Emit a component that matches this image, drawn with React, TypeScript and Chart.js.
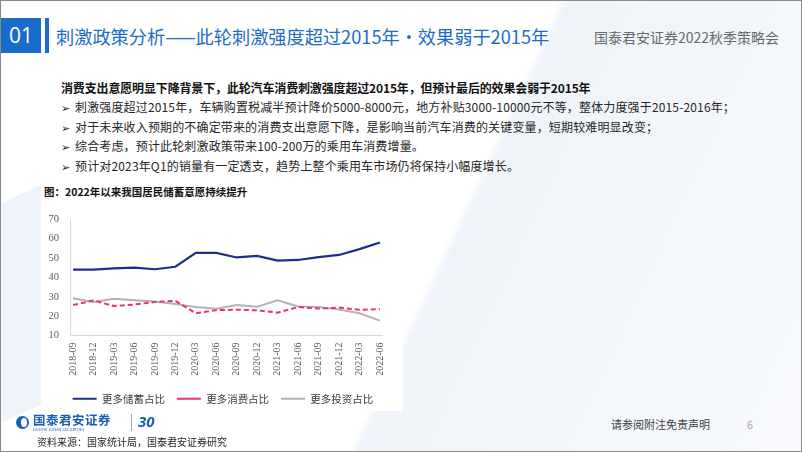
import React, { useEffect, useRef } from "react";
import { Chart, registerables } from "chart.js";

Chart.register(...registerables);

const categories = [
  "2018-09", "2018-12", "2019-03", "2019-06", "2019-09", "2019-12",
  "2020-03", "2020-06", "2020-09", "2020-12", "2021-03", "2021-06",
  "2021-09", "2021-12", "2022-03", "2022-06",
];
const savingsShare = [44, 44, 44.7, 45, 44.2, 45.5, 52.7, 52.7, 50.3, 51.1, 48.7, 49, 50.5, 51.6, 54.6, 58];
const consumptionShare = [25.7, 28.1, 25.2, 26, 27.3, 27.9, 21.5, 23.1, 23.3, 23, 21.8, 24.7, 23.9, 24.4, 23.3, 23.6];
const investmentShare = [29.2, 27.3, 29, 28.2, 27.6, 26.3, 24.7, 23.8, 25.7, 24.9, 28.2, 25, 24.7, 23.4, 21.5, 17.7];
const seriesNames = ["更多储蓄占比", "更多消费占比", "更多投资占比"];
const yTicks = [10, 20, 30, 40, 50, 60, 70];

const bullets = [
  "刺激强度超过2015年，车辆购置税减半预计降价5000-8000元，地方补贴3000-10000元不等，整体力度强于2015-2016年；",
  "对于未来收入预期的不确定带来的消费支出意愿下降，是影响当前汽车消费的关键变量，短期较难明显改变；",
  "综合考虑，预计此轮刺激政策带来100-200万的乘用车消费增量。",
  "预计对2023年Q1的销量有一定透支，趋势上整个乘用车市场仍将保持小幅度增长。",
];

const CJK = '"Noto Sans CJK SC", "Noto Sans", sans-serif';

const legendShift = {
  id: "legendShift",
  afterLayout(chart: any) {
    const lg = chart.legend;
    if (lg) {
      lg.left += 9;
      lg.right += 9;
    }
  },
};

function LineChart() {
  const ref = useRef<HTMLCanvasElement | null>(null);
  useEffect(() => {
    if (!ref.current) return;
    const toPts = (arr: number[]) => arr.map((v, i) => ({ x: i, y: v }));
    const chart = new Chart(ref.current, {
      type: "line",
      data: {
        datasets: [
          {
            label: seriesNames[0],
            data: toPts(savingsShare),
            borderColor: "#1f2d8e",
            backgroundColor: "#1f2d8e",
            borderWidth: 2.2,
            pointRadius: 0,
            pointStyle: "line",
            tension: 0,
          },
          {
            label: seriesNames[1],
            data: toPts(consumptionShare),
            borderColor: "#e8336e",
            backgroundColor: "#e8336e",
            borderWidth: 2,
            borderDash: [5, 3],
            pointRadius: 0,
            pointStyle: "line",
            tension: 0,
          },
          {
            label: seriesNames[2],
            data: toPts(investmentShare),
            borderColor: "#b3b3b3",
            backgroundColor: "#b3b3b3",
            borderWidth: 2,
            pointRadius: 0,
            pointStyle: "line",
            tension: 0,
          },
        ],
      },
      options: {
        animation: false,
        responsive: false,
        maintainAspectRatio: false,
        layout: { padding: { left: 0, right: 8, top: 0, bottom: 0 } },
        plugins: {
          legend: {
            position: "bottom",
            labels: {
              usePointStyle: true,
              pointStyleWidth: 24,
              boxHeight: 10,
              padding: 12,
              color: "#404040",
              font: { family: CJK, size: 10.5 },
            },
          },
          tooltip: { enabled: false },
        },
        scales: {
          x: {
            type: "linear",
            min: -0.15,
            max: 15.15,
            afterBuildTicks: (s: any) => {
              s.ticks = categories.map((_, i) => ({ value: i }));
            },
            afterFit: (s: any) => {
              s.height = 46;
            },
            ticks: {
              callback: (v: any) => categories[Math.round(Number(v))] ?? "",
              maxRotation: 90,
              minRotation: 90,
              autoSkip: false,
              padding: 7,
              color: "#595959",
              font: { family: '"Liberation Serif", serif', size: 10 },
            },
            grid: { display: false, drawTicks: false },
            border: { display: true, color: "#d9d9d9" },
          },
          y: {
            min: 10,
            max: 70,
            afterBuildTicks: (s: any) => {
              s.ticks = yTicks.map((v) => ({ value: v }));
            },
            afterFit: (s: any) => {
              s.width = 33;
            },
            ticks: {
              padding: 11,
              color: "#595959",
              font: { family: '"Liberation Serif", serif', size: 10.5 },
            },
            grid: { display: false, drawTicks: false },
            border: { display: true, color: "#d9d9d9" },
          },
        },
      },
      plugins: [legendShift],
    } as any);
    return () => chart.destroy();
  }, []);
  return (
    <canvas
      ref={ref}
      width={362}
      height={212}
      style={{ position: "absolute", left: 36, top: 201, width: 362, height: 212 }}
    />
  );
}

export default function App() {
  useEffect(() => {
    document.body.style.margin = "0";
  }, []);
  return (
    <div
      style={{
        position: "fixed",
        left: 0,
        top: 0,
        width: 802,
        height: 452,
        boxSizing: "border-box",
        border: "1px solid #8a8a8a",
        background: "#ffffff",
        overflow: "hidden",
        fontFamily: CJK,
      }}
    >
      {/* faint decorative background shapes */}
      <div style={{ position: "absolute", left: 0, top: 0, width: 802, height: 452, background: "linear-gradient(115deg, rgba(255,255,255,0) 55%, rgba(232,239,247,0.7) 56%, rgba(240,244,250,0.5) 100%)" }} />
      <div style={{ position: "absolute", left: -40, top: 200, width: 90, height: 220, background: "rgba(225,235,246,0.55)", transform: "skewY(-25deg)" }} />
      <div style={{ position: "absolute", left: 40, top: 178, width: 362, height: 232, background: "#ffffff" }} />

      {/* header */}
      <div style={{ position: "absolute", left: 0, top: 17, width: 40, height: 35, background: "#1a6ccb", color: "#fff", fontSize: 21, lineHeight: "35px", textAlign: "center", fontFamily: '"Open Sans", "Noto Sans", sans-serif' }}>01</div>
      <div style={{ position: "absolute", left: 44, top: 17, width: 4, height: 35, background: "#1a6ccb" }} />
      <div style={{ position: "absolute", left: 55, top: 22, fontSize: 18.2, lineHeight: "26px", color: "#1d6cc6", whiteSpace: "nowrap" }}>
        刺激政策分析——此轮刺激强度超过2015年·效果弱于2015年
      </div>
      <div style={{ position: "absolute", left: 593, top: 26, fontSize: 14, lineHeight: "20px", color: "#6a6a6a", whiteSpace: "nowrap" }}>
        国泰君安证券2022秋季策略会
      </div>

      {/* body text */}
      <div style={{ position: "absolute", left: 60, top: 78, fontSize: 12, lineHeight: "18px", fontWeight: 700, color: "#111", whiteSpace: "nowrap", letterSpacing: -0.15 }}>
        消费支出意愿明显下降背景下，此轮汽车消费刺激强度超过2015年，但预计最后的效果会弱于2015年
      </div>
      {bullets.map((b, i) => (
        <div key={i} style={{ position: "absolute", left: 60, top: 97 + i * 19.5, fontSize: 12, lineHeight: "18px", color: "#262626", whiteSpace: "nowrap", letterSpacing: 0.15 }}>
          <span style={{ display: "inline-block", width: 14, fontSize: 11 }}>➢</span>
          {b}
        </div>
      ))}

      {/* chart title */}
      <div style={{ position: "absolute", left: 43, top: 183, fontSize: 10.5, lineHeight: "16px", fontWeight: 700, color: "#111", whiteSpace: "nowrap" }}>
        图：2022年以来我国居民储蓄意愿持续提升
      </div>

      <LineChart />

      {/* footer */}
      <div style={{ position: "absolute", left: 15, top: 415, width: 13, height: 13, borderRadius: "50%", background: "#1a5fb4" }}>
        <div style={{ position: "absolute", left: 5, top: 2, width: 6, height: 9, borderRadius: "50%", background: "#fff" }} />
      </div>
      <div style={{ position: "absolute", left: 32, top: 411, fontSize: 12.5, lineHeight: "16px", fontWeight: 700, color: "#1a5fb4", whiteSpace: "nowrap", letterSpacing: 0.5 }}>
        国泰君安证券
      </div>
      <div style={{ position: "absolute", left: 32, top: 426, fontSize: 4, lineHeight: "5px", color: "#1a5fb4", whiteSpace: "nowrap" }}>
        GUOTAI JUNAN SECURITIES
      </div>
      <div style={{ position: "absolute", left: 130, top: 413, width: 1, height: 17, background: "#9ab" }} />
      <div style={{ position: "absolute", left: 137, top: 410, fontSize: 15, lineHeight: "20px", fontWeight: 700, fontStyle: "italic", color: "#1a5fb4", fontFamily: '"Open Sans", sans-serif' }}>
        30
      </div>
      <div style={{ position: "absolute", left: 36, top: 434, fontSize: 10, lineHeight: "14px", color: "#262626", whiteSpace: "nowrap" }}>
        资料来源：国家统计局，国泰君安证券研究
      </div>
      <div style={{ position: "absolute", left: 610, top: 415, fontSize: 11, lineHeight: "16px", color: "#404040", whiteSpace: "nowrap" }}>
        请参阅附注免责声明
      </div>
      <div style={{ position: "absolute", left: 746, top: 415, fontSize: 11, lineHeight: "16px", color: "#a6a6a6" }}>6</div>
    </div>
  );
}
